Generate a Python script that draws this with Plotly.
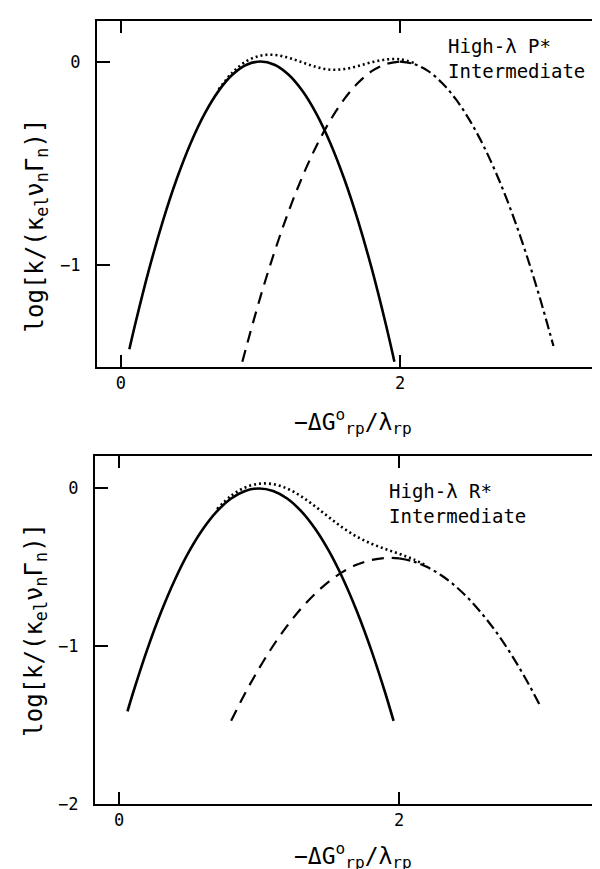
import plotly.graph_objects as go

# ---------------- data ----------------
# Top panel: High-lambda P* intermediate
top_solid_x = [0.06, 0.1, 0.2, 0.3, 0.4, 0.5, 0.6, 0.7, 0.8, 0.9, 1.0, 1.1, 1.2, 1.3, 1.4, 1.5, 1.6, 1.7, 1.8, 1.9, 1.96]
top_solid_y = [-1.414, -1.296, -1.024, -0.784, -0.576, -0.40, -0.256, -0.144, -0.064, -0.016, 0.0, -0.016, -0.064, -0.144, -0.256, -0.40, -0.576, -0.784, -1.024, -1.296, -1.475]
top_dash_x = [0.87, 0.9, 1.0, 1.1, 1.2, 1.3, 1.4, 1.5, 1.6, 1.7, 1.8, 1.9, 2.0]
top_dash_y = [-1.475, -1.398, -1.155, -0.936, -0.739, -0.566, -0.416, -0.289, -0.185, -0.104, -0.046, -0.012, 0.0]
top_dashdot_x = [2.0, 2.1, 2.2, 2.3, 2.4, 2.5, 2.6, 2.7, 2.8, 2.9, 3.0, 3.1]
top_dashdot_y = [0.0, -0.012, -0.046, -0.104, -0.185, -0.289, -0.416, -0.566, -0.739, -0.936, -1.155, -1.398]
top_dot_x = [0.7, 0.8, 0.9, 1.0, 1.1, 1.2, 1.3, 1.4, 1.5, 1.6, 1.7, 1.8, 1.9, 2.0, 2.1]
top_dot_y = [-0.137, -0.053, 0.002, 0.029, 0.033, 0.019, -0.004, -0.027, -0.040, -0.037, -0.022, -0.003, 0.010, 0.011, -0.007]

# Bottom panel: High-lambda R* intermediate
bot_solid_x = [0.06, 0.1, 0.2, 0.3, 0.4, 0.5, 0.6, 0.7, 0.8, 0.9, 1.0, 1.1, 1.2, 1.3, 1.4, 1.5, 1.6, 1.7, 1.8, 1.9, 1.96]
bot_solid_y = [-1.414, -1.296, -1.024, -0.784, -0.576, -0.40, -0.256, -0.144, -0.064, -0.016, 0.0, -0.016, -0.064, -0.144, -0.256, -0.40, -0.576, -0.784, -1.024, -1.296, -1.475]
bot_dash_x = [0.8, 0.9, 1.0, 1.1, 1.2, 1.3, 1.4, 1.5, 1.6, 1.7, 1.8, 1.9, 2.0]
bot_dash_y = [-1.474, -1.299, -1.141, -0.998, -0.872, -0.761, -0.668, -0.590, -0.528, -0.483, -0.454, -0.441, -0.444]
bot_dashdot_x = [2.0, 2.1, 2.2, 2.3, 2.4, 2.5, 2.6, 2.7, 2.8, 2.9, 3.0]
bot_dashdot_y = [-0.444, -0.463, -0.499, -0.551, -0.619, -0.703, -0.804, -0.920, -1.053, -1.202, -1.367]
bot_dot_x = [0.7, 0.8, 0.9, 1.0, 1.1, 1.2, 1.3, 1.4, 1.5, 1.6, 1.7, 1.8, 1.9, 2.0, 2.1, 2.2]
bot_dot_y = [-0.131, -0.047, 0.006, 0.030, 0.027, -0.001, -0.050, -0.114, -0.184, -0.251, -0.307, -0.350, -0.384, -0.415, -0.449, -0.492]

x_ticks = [0, 2]
x_tick_labels = ["0", "2"]
top_y_ticks = [0, -1]
top_y_tick_labels = ["0", "\u22121"]
bot_y_ticks = [0, -1, -2]
bot_y_tick_labels = ["0", "\u22121", "\u22122"]

top_label = "High-\u03bb P*<br>Intermediate"
bot_label = "High-\u03bb R*<br>Intermediate"
x_title = "\u2212\u0394G<sup>o</sup><sub>rp</sub>/\u03bb<sub>rp</sub>"
y_title = "log[k/(\u03ba<sub>el</sub>\u03bd<sub>n</sub>\u0393<sub>n</sub>)]"

# ---------------- figure ----------------
W, H = 600, 869
FONT = "DejaVu Sans Mono"
BLACK = "black"


def px(x):
    return x / W


def py(y):
    return 1 - y / H


fig = go.Figure()

panels = [
    ("x", "y", top_solid_x, top_solid_y, top_dash_x, top_dash_y, top_dashdot_x, top_dashdot_y, top_dot_x, top_dot_y),
    ("x2", "y2", bot_solid_x, bot_solid_y, bot_dash_x, bot_dash_y, bot_dashdot_x, bot_dashdot_y, bot_dot_x, bot_dot_y),
]
for xa, ya, sx, sy, dx, dy, ddx, ddy, ox, oy in panels:
    fig.add_trace(go.Scatter(x=sx, y=sy, mode="lines", line=dict(color=BLACK, width=2.6, shape="spline"),
                             xaxis=xa, yaxis=ya, showlegend=False, hoverinfo="skip"))
    fig.add_trace(go.Scatter(x=dx, y=dy, mode="lines", line=dict(color=BLACK, width=2.2, dash="12px,8px", shape="spline"),
                             xaxis=xa, yaxis=ya, showlegend=False, hoverinfo="skip"))
    fig.add_trace(go.Scatter(x=ddx, y=ddy, mode="lines", line=dict(color=BLACK, width=2.2, dash="11px,4px,3px,4px", shape="spline"),
                             xaxis=xa, yaxis=ya, showlegend=False, hoverinfo="skip"))
    fig.add_trace(go.Scatter(x=ox, y=oy, mode="lines", line=dict(color=BLACK, width=2.6, dash="2px,3px", shape="spline"),
                             xaxis=xa, yaxis=ya, showlegend=False, hoverinfo="skip"))

tickfont = dict(family=FONT, size=17, color=BLACK)
common_x = dict(range=[-0.172, 3.491], tickvals=x_ticks, ticktext=x_tick_labels, ticks="inside",
                ticklen=12, tickwidth=2, tickcolor=BLACK, showline=True, linewidth=2, linecolor=BLACK,
                mirror="ticks", showgrid=False, zeroline=False, tickfont=tickfont, fixedrange=True)
common_y = dict(ticks="inside", ticklen=13, tickwidth=2, tickcolor=BLACK, showline=True, linewidth=2,
                linecolor=BLACK, mirror=False, showgrid=False, zeroline=False, tickfont=tickfont,
                fixedrange=True, ticklabelstandoff=11)

fig.update_layout(
    width=W, height=H,
    margin=dict(l=0, r=0, t=0, b=0),
    paper_bgcolor="white", plot_bgcolor="white",
    xaxis=dict(domain=[px(89), 1], anchor="y", **common_x),
    yaxis=dict(domain=[py(363), py(13)], anchor="x", range=[-1.5, 0.2],
               tickvals=top_y_ticks, ticktext=top_y_tick_labels, **common_y),
    xaxis2=dict(domain=[px(87), 1], anchor="y2", **common_x),
    yaxis2=dict(domain=[py(805), py(453)], anchor="x2", range=[-2.0, 0.207],
                tickvals=bot_y_ticks, ticktext=bot_y_tick_labels, **common_y),
)

# right-side inward ticks (no right frame line in the reference)
shapes = []
for ya, yd, tv in [("y", "x domain", top_y_ticks), ("y2", "x2 domain", bot_y_ticks[:-1])]:
    for v in tv:
        shapes.append(dict(type="line", xref=yd, yref=ya, xsizemode="pixel", xanchor=1,
                           x0=0, x1=-12, y0=v, y1=v, line=dict(color=BLACK, width=2)))
fig.update_layout(shapes=shapes)

annfont = dict(family=FONT, size=19, color=BLACK)
titlefont = dict(family=FONT, size=23, color=BLACK)
ytitlefont = dict(family=FONT, size=24, color=BLACK)
ann = [
    dict(text=top_label, x=px(438), y=py(25), xref="paper", yref="paper", xanchor="left", yanchor="top",
         align="left", showarrow=False, font=annfont),
    dict(text=bot_label, x=px(379), y=py(475), xref="paper", yref="paper", xanchor="left", yanchor="top",
         align="left", showarrow=False, font=annfont),
    dict(text=x_title, x=px(345), y=py(418), xref="paper", yref="paper", xanchor="center", yanchor="middle",
         showarrow=False, font=titlefont),
    dict(text=x_title, x=px(345), y=py(857), xref="paper", yref="paper", xanchor="center", yanchor="middle",
         showarrow=False, font=titlefont),
    dict(text=y_title, x=px(28), y=py(220), xref="paper", yref="paper", xanchor="center", yanchor="middle",
         textangle=-90, showarrow=False, font=ytitlefont),
    dict(text=y_title, x=px(28), y=py(629), xref="paper", yref="paper", xanchor="center", yanchor="middle",
         textangle=-90, showarrow=False, font=ytitlefont),
]
fig.update_layout(annotations=ann)

fig.write_html("out.html")
